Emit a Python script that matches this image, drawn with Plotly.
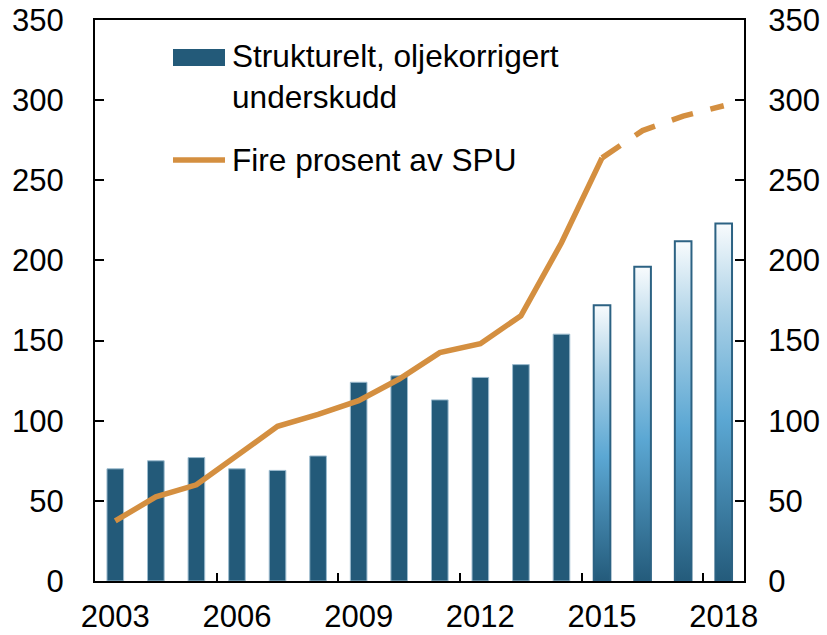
import plotly.graph_objects as go

years = list(range(2003, 2019))
underskudd = [70, 75, 77, 70, 69, 78, 124, 128, 113, 127, 135, 154, 172, 196, 212, 223]
fire_prosent = [37.5, 52.5, 60, 78.5, 96.5, 104, 112.5, 126, 142.5, 148, 165.5, 211, 264, 281, 290, 296.5]
first_forecast_year = 2015
xtick_labels = ["2003", "2006", "2009", "2012", "2015", "2018"]
xtick_vals = [2003, 2006, 2009, 2012, 2015, 2018]
ytick_vals = [0, 50, 100, 150, 200, 250, 300, 350]

bar_name = "Strukturelt, oljekorrigert<br>underskudd"
line_name = "Fire prosent av SPU"

BAR_COLOR = "#235A79"
LINE_COLOR = "#D48F40"
FONT = "Liberation Sans, Arial, sans-serif"
BAR_W = 0.41

fig = go.Figure()

hist_x = [y for y in years if y < first_forecast_year]
hist_v = [v for y, v in zip(years, underskudd) if y < first_forecast_year]
fig.add_trace(go.Bar(
    x=hist_x, y=hist_v, width=BAR_W, name=bar_name,
    marker=dict(color=BAR_COLOR, line=dict(color="#9DBCCF", width=1)),
    showlegend=False,
))

# forecast bars with vertical gradient
for y, v in zip(years, underskudd):
    if y < first_forecast_year:
        continue
    x0, x1 = y - BAR_W / 2, y + BAR_W / 2
    fig.add_trace(go.Scatter(
        x=[x0, x0, x1, x1, x0], y=[0, v, v, 0, 0],
        mode="lines", fill="toself",
        line=dict(color="#2C6283", width=2),
        fillgradient=dict(type="vertical",
                          colorscale=[[0, "#245B7B"], [0.45, "#5BA7D3"], [0.75, "#A9D0E6"], [1, "#F8FBFD"]]),
        showlegend=False, hoverinfo="skip",
    ))

solid_x = [y for y in years if y <= first_forecast_year]
solid_v = [v for y, v in zip(years, fire_prosent) if y <= first_forecast_year]
dash_x = [y for y in years if y >= first_forecast_year]
dash_v = [v for y, v in zip(years, fire_prosent) if y >= first_forecast_year]

fig.add_trace(go.Scatter(x=solid_x, y=solid_v, mode="lines", name=line_name,
                         line=dict(color=LINE_COLOR, width=5.5), showlegend=False))
fig.add_trace(go.Scatter(x=dash_x, y=dash_v, mode="lines", name=line_name,
                         line=dict(color=LINE_COLOR, width=5.5, dash="22px,18px"), showlegend=False))

# dummy trace for right axis
fig.add_trace(go.Scatter(x=[years[0]], y=[0], yaxis="y2", mode="markers",
                         marker=dict(opacity=0), showlegend=False, hoverinfo="skip"))

FIG_W, FIG_H = 827, 635
L, R, T, B = 95, 744, 20, 581
W, H = R - L, B - T
def px(x): return (x - L) / W
def py(y): return (B - y) / H

fig.add_shape(type="rect", xref="paper", yref="paper",
              x0=px(173), x1=px(225), y0=py(66), y1=py(49),
              fillcolor=BAR_COLOR, line=dict(width=0))
fig.add_shape(type="line", xref="paper", yref="paper",
              x0=px(173), x1=px(225), y0=py(160), y1=py(160),
              line=dict(color=LINE_COLOR, width=5.5))
fig.add_annotation(xref="paper", yref="paper", x=px(230), y=py(76), text=bar_name,
                   showarrow=False, xanchor="left", yanchor="middle", align="left",
                   font=dict(family=FONT, size=31.6, color="black"))
fig.add_annotation(xref="paper", yref="paper", x=px(230), y=py(160), text=line_name,
                   showarrow=False, xanchor="left", yanchor="middle", align="left",
                   font=dict(family=FONT, size=31.6, color="black"))

fig.update_layout(
    template="none",
    width=FIG_W, height=FIG_H,
    margin=dict(l=L, r=FIG_W - R, t=T, b=FIG_H - B, autoexpand=False),
    paper_bgcolor="white", plot_bgcolor="white",
    font=dict(family=FONT, size=31, color="black"),
    showlegend=False,
    xaxis=dict(range=[2002.5, 2018.5], tickmode="array", tickvals=xtick_vals, ticktext=xtick_labels,
               ticks="", showgrid=False, zeroline=False, showline=True, linecolor="black",
               linewidth=2, mirror=True, automargin=False, ticklabelstandoff=7,
               ticklabeloverflow="allow",
               minor=dict(tickmode="array", tickvals=[2005.5, 2008.5, 2011.5, 2014.5, 2017.5],
                          ticks="inside", ticklen=8, tickcolor="black", tickwidth=1.5, showgrid=False)),
    yaxis=dict(range=[0, 350], tickmode="array", tickvals=ytick_vals, ticks="inside", ticklen=9,
               tickwidth=1.5, tickcolor="black", showgrid=False, zeroline=False, showline=True,
               linecolor="black", linewidth=2, ticklabelstandoff=23, automargin=False,
               ticklabeloverflow="allow"),
    yaxis2=dict(range=[0, 350], tickmode="array", tickvals=ytick_vals, ticks="inside", ticklen=9,
                tickwidth=1.5, tickcolor="black", showgrid=False, zeroline=False, showline=True,
                linecolor="black", linewidth=2, overlaying="y", side="right", ticklabelstandoff=16,
                automargin=False, ticklabeloverflow="allow"),
)

fig.write_html("out.html", config={"displayModeBar": False},
               post_script="document.body.style.margin='0';document.body.style.overflow='hidden';")
